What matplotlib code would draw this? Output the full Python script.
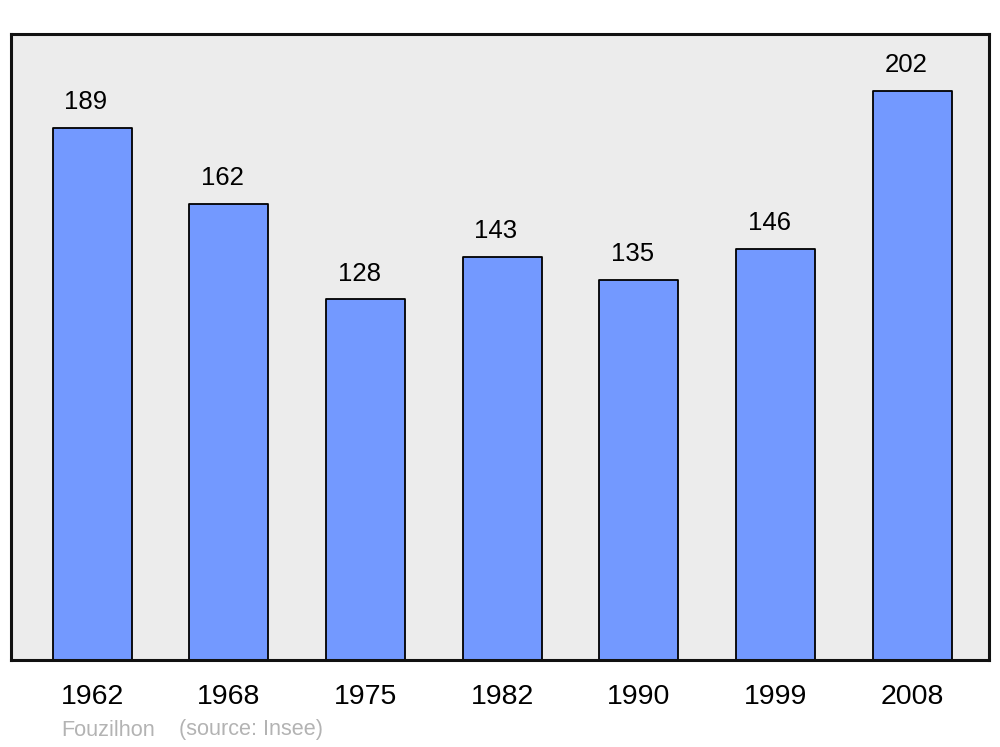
import matplotlib
matplotlib.use("Agg")
import matplotlib.pyplot as plt

years = ["1962", "1968", "1975", "1982", "1990", "1999", "2008"]
population = [189, 162, 128, 143, 135, 146, 202]
commune = "Fouzilhon"
source = "(source: Insee)"

plt.rcParams['font.family'] = ['Liberation Sans', 'DejaVu Sans']

fig = plt.figure(figsize=(10, 7.47), dpi=100)
ax = fig.add_axes([0.011, 1 - 660/747, 0.978, (660 - 34)/747])
ax.set_facecolor('#ececec')

x = list(range(len(years)))
bars = ax.bar(x, population, width=0.578, color='#7399ff', edgecolor='black',
              linewidth=1.3, zorder=2)
for b in bars:
    b.set_joinstyle('round')

ax.set_xlim(-0.593, 6.563)
ax.set_ylim(0, max(population) * 1.1)

for xi, v in zip(x, population):
    ax.annotate(str(v), (xi, v), xytext=(-4.5, 13.5), textcoords='offset points',
                ha='center', va='baseline', fontsize=18.5)

ax.set_xticks(x)
ax.set_xticklabels(years, fontsize=20.5)
ax.tick_params(axis='x', length=0, pad=17)
ax.tick_params(axis='y', left=False, labelleft=False)
for s in ax.spines.values():
    s.set_linewidth(2.2)
    s.set_color('#111111')
    s.set_joinstyle('round')

fig.text(0.061, 1 - 730/747, commune, color='#b3b3b3', fontsize=15.6, va='center', ha='left')
fig.text(0.179, 1 - 730/747, source, color='#b3b3b3', fontsize=15.6, va='center', ha='left')

fig.savefig('out.png', dpi=100)
